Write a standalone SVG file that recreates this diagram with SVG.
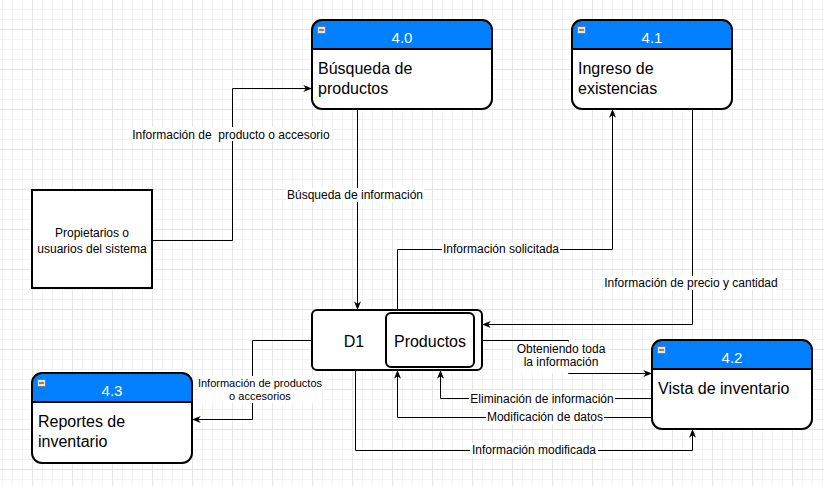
<svg xmlns="http://www.w3.org/2000/svg" width="824" height="486" viewBox="0 0 824 486">
<defs>
<pattern id="grid" patternUnits="userSpaceOnUse" x="2" y="-1" width="40" height="40">
<path d="M0.5,0V40M10.5,0V40M20.5,0V40M0,0.5H40M0,10.5H40M0,20.5H40" stroke="#f3f3f3" stroke-width="1" fill="none"/>
<path d="M30.5,0V40M0,30.5H40" stroke="#e5e5e5" stroke-width="1" fill="none"/>
</pattern>
<marker id="arr" viewBox="0 0 10 8" refX="10" refY="4" markerWidth="9" markerHeight="7" markerUnits="userSpaceOnUse" orient="auto">
<path d="M0,0L10,4L0,8L3,4Z" fill="#000"/>
</marker>
</defs>
<style>
.edge{fill:none;stroke:#000;stroke-width:1;marker-end:url(#arr)}
.lbg{fill:#fff}
.lbl{font-family:"Liberation Sans",Arial,sans-serif;font-size:12px;fill:#000;text-anchor:middle;white-space:pre}
.lbl11{font-family:"Liberation Sans",Arial,sans-serif;font-size:11px;fill:#000;text-anchor:middle}
.head{fill:#0080ff}
.box{fill:none;stroke:#000;stroke-width:2}
.body{fill:#fff}
.title{font-family:"Liberation Sans",Arial,sans-serif;font-size:15px;fill:#fff;text-anchor:middle}
.txt{font-family:"Liberation Sans",Arial,sans-serif;font-size:16px;fill:#000}
.ctr{text-anchor:middle}
.small{font-family:"Liberation Sans",Arial,sans-serif;font-size:12px;fill:#000;text-anchor:middle}
.icon{fill:#e4e4e4;stroke:#7a7a7a;stroke-width:1}
.minus{stroke:#222;stroke-width:1}
</style>
<rect width="824" height="486" fill="#fff"/>
<rect width="824" height="486" fill="url(#grid)"/>

<g id="connectors">
<path class="edge" d="M152,240.5H232.5V88.5H312"/>
<path class="edge" d="M357.5,109V310"/>
<path class="edge" d="M397.5,310V249.5H612.5V109"/>
<path class="edge" d="M692.5,109V324.5H482"/>
<path class="edge" d="M312,340.5H252.5V419.5H192"/>
<path class="edge" d="M482,340.5H568.5V373.5H652"/>
<path class="edge" d="M652,398.5H440.5V370"/>
<path class="edge" d="M652,417.5H397.5V370"/>
<path class="edge" d="M355.5,370V450.5H692.5V429"/>
<g id="labels">
<rect class="lbg" x="131" y="127" width="200" height="14"/>
<text class="lbl" x="231" y="138.5">Información de  producto o accesorio</text>
<rect class="lbg" x="286" y="188" width="138" height="14"/>
<text class="lbl" x="355" y="199">Búsqueda de información</text>
<rect class="lbg" x="442" y="242" width="118" height="14"/>
<text class="lbl" x="501" y="253">Información solicitada</text>
<rect class="lbg" x="604" y="276" width="174" height="14"/>
<text class="lbl" x="691" y="287">Información de precio y cantidad</text>
<rect class="lbg" x="198" y="376" width="124" height="27"/>
<text class="lbl11" x="260" y="386.5">Información de productos</text>
<text class="lbl11" x="260" y="400">o accesorios</text>
<rect class="lbg" x="513" y="341.5" width="96" height="31.5"/>
<text class="lbl" x="561" y="352.5">Obteniendo toda</text>
<text class="lbl" x="561" y="366">la información</text>
<rect class="lbg" x="469" y="392" width="146" height="14"/>
<text class="lbl" x="542" y="403">Eliminación de información</text>
<rect class="lbg" x="486" y="410" width="118" height="14"/>
<text class="lbl" x="545" y="421">Modificación de datos</text>
<rect class="lbg" x="470" y="443" width="128" height="14"/>
<text class="lbl" x="534" y="454">Información modificada</text>
</g>
</g>

<g id="node-4-0">
<rect class="body" x="312" y="20" width="180" height="89" rx="10"/>
<path class="head" d="M312,49V30A10,10 0 0 1 322,20H482A10,10 0 0 1 492,30V49Z"/>
<rect class="box" x="312" y="20" width="180" height="89" rx="10"/>
<line x1="312" y1="49" x2="492" y2="49" stroke="#000" stroke-width="2"/>
<rect class="icon" x="317.5" y="26.5" width="8" height="7"/>
<line class="minus" x1="319" y1="30" x2="324" y2="30"/>
<text class="title" x="402" y="43">4.0</text>
<text class="txt" x="318" y="73.5">Búsqueda de</text>
<text class="txt" x="318" y="93.5">productos</text>
</g>

<g id="node-4-1">
<rect class="body" x="572" y="20" width="160" height="89" rx="10"/>
<path class="head" d="M572,49V30A10,10 0 0 1 582,20H722A10,10 0 0 1 732,30V49Z"/>
<rect class="box" x="572" y="20" width="160" height="89" rx="10"/>
<line x1="572" y1="49" x2="732" y2="49" stroke="#000" stroke-width="2"/>
<rect class="icon" x="577.5" y="26.5" width="8" height="7"/>
<line class="minus" x1="579" y1="30" x2="584" y2="30"/>
<text class="title" x="652" y="43">4.1</text>
<text class="txt" x="578" y="73.5">Ingreso de</text>
<text class="txt" x="578" y="93.5">existencias</text>
</g>

<g id="node-4-2">
<rect class="body" x="652" y="340" width="160" height="89" rx="10"/>
<path class="head" d="M652,369V350A10,10 0 0 1 662,340H802A10,10 0 0 1 812,350V369Z"/>
<rect class="box" x="652" y="340" width="160" height="89" rx="10"/>
<line x1="652" y1="369" x2="812" y2="369" stroke="#000" stroke-width="2"/>
<rect class="icon" x="657.5" y="346.5" width="8" height="7"/>
<line class="minus" x1="659" y1="350" x2="664" y2="350"/>
<text class="title" x="732" y="363">4.2</text>
<text class="txt" x="658" y="393.5">Vista de inventario</text>
</g>

<g id="node-4-3">
<rect class="body" x="32" y="373" width="160" height="90" rx="10"/>
<path class="head" d="M32,402V383A10,10 0 0 1 42,373H182A10,10 0 0 1 192,383V402Z"/>
<rect class="box" x="32" y="373" width="160" height="90" rx="10"/>
<line x1="32" y1="402" x2="192" y2="402" stroke="#000" stroke-width="2"/>
<rect class="icon" x="37.5" y="379.5" width="8" height="7"/>
<line class="minus" x1="39" y1="383" x2="44" y2="383"/>
<text class="title" x="112" y="396">4.3</text>
<text class="txt" x="38" y="426.5">Reportes de</text>
<text class="txt" x="38" y="446.5">inventario</text>
</g>

<g id="entity-propietarios">
<rect x="32" y="190" width="120" height="98" fill="#fff" stroke="#000" stroke-width="2"/>
<text class="small" x="92" y="236.5">Propietarios o</text>
<text class="small" x="92" y="252.5">usuarios del sistema</text>
</g>

<g id="store-d1">
<rect x="312" y="310" width="170" height="60" rx="5" fill="#fff" stroke="#000" stroke-width="2"/>
<rect x="386" y="313" width="88" height="54" rx="5" fill="#fff" stroke="#000" stroke-width="2"/>
<text class="txt ctr" x="354" y="347">D1</text>
<text class="txt ctr" x="430" y="347">Productos</text>
</g>
</svg>
